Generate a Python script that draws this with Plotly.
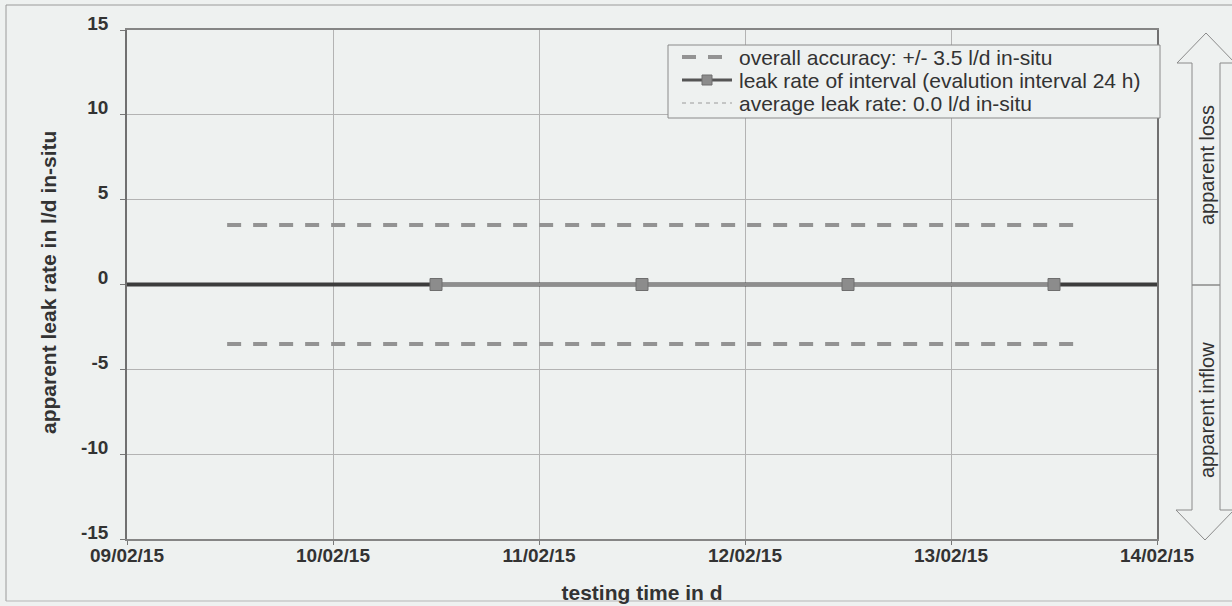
import plotly.graph_objects as go

# ---- data ----
test_start = "2015-02-09 00:00"
test_end = "2015-02-14 00:00"
interval_times = ["2015-02-10 12:00", "2015-02-11 12:00", "2015-02-12 12:00", "2015-02-13 12:00"]
interval_rates = [0.0, 0.0, 0.0, 0.0]
average_rate = 0.0
accuracy = 3.5
accuracy_times = ["2015-02-09 11:40", "2015-02-13 14:20"]
x_ticks = ["2015-02-09", "2015-02-10", "2015-02-11", "2015-02-12", "2015-02-13", "2015-02-14"]
x_tick_labels = ["09/02/15", "10/02/15", "11/02/15", "12/02/15", "13/02/15", "14/02/15"]
y_ticks = [-15, -10, -5, 0, 5, 10, 15]
y_tick_labels = ["-15", "-10", "-5", "0", "5", "10", "15"]
legend_names = ["overall accuracy: +/- 3.5 l/d in-situ",
                "leak rate of interval (evalution interval 24 h)",
                "average leak rate: 0.0 l/d in-situ"]
x_title = "testing time in d"
y_title = "apparent leak rate in l/d in-situ"

BG = "#eef1f0"
TXT = "#333333"
FONT = "Liberation Sans, Arial, sans-serif"
ACC_COLOR = "#939393"
DARK = "#3c3c3c"
MID = "#8e8e8e"
MARK = "#8c8c8c"
MARK_EDGE = "#6e6e6e"
AVG_COLOR = "#9a9a9a"

fig = go.Figure()

# average leak rate (thin dashed, under everything)
fig.add_trace(go.Scatter(
    x=[test_start, test_end], y=[average_rate, average_rate], mode="lines",
    name=legend_names[2], showlegend=False,
    line=dict(color=AVG_COLOR, width=1, dash="4px,4px")))

# overall accuracy +/-
for sign in (1, -1):
    fig.add_trace(go.Scatter(
        x=accuracy_times, y=[sign * accuracy, sign * accuracy], mode="lines",
        name=legend_names[0], showlegend=False,
        line=dict(color=ACC_COLOR, width=4, dash="14px,12px")))

# leak rate line: dark ends, grey between interval points
fig.add_trace(go.Scatter(
    x=[test_start] + interval_times + [test_end],
    y=[interval_rates[0]] + interval_rates + [interval_rates[-1]],
    mode="lines", showlegend=False, name=legend_names[1],
    line=dict(color=DARK, width=4)))
fig.add_trace(go.Scatter(
    x=interval_times, y=interval_rates, mode="lines+markers", showlegend=False,
    name=legend_names[1],
    line=dict(color=MID, width=3),
    marker=dict(symbol="square", size=12, color=MARK, line=dict(color=MARK_EDGE, width=1))))

# ---- layout geometry (pixels -> paper) ----
L, R, T, B = 127, 1157, 30, 539
W, H = R - L, B - T
def px(x):
    return (x - L) / W
def py(y):
    return (B - y) / H

shapes = []
annotations = []
# outer frame
shapes.append(dict(type="path", xref="paper", yref="paper",
                   path=f"M {px(6)},{py(601)} L {px(6)},{py(5)} L {px(1240)},{py(5)}",
                   line=dict(color="#9a9a9a", width=1)))
shapes.append(dict(type="line", xref="paper", yref="paper",
                   x0=px(6), x1=px(1240), y0=py(601), y1=py(601),
                   line=dict(color="#b5b5b5", width=1)))
# double arrow on the right
arrow = (f"M {px(1206)},{py(33)} L {px(1177)},{py(63)} L {px(1192)},{py(63)} "
         f"L {px(1192)},{py(510)} L {px(1176)},{py(510)} L {px(1205)},{py(540)} "
         f"L {px(1234)},{py(510)} L {px(1220)},{py(510)} L {px(1220)},{py(63)} "
         f"L {px(1235)},{py(63)} Z")
shapes.append(dict(type="path", xref="paper", yref="paper", path=arrow,
                   line=dict(color="#8a8a8a", width=1)))
shapes.append(dict(type="line", xref="paper", yref="paper",
                   x0=px(1192), x1=px(1220), y0=py(285), y1=py(285),
                   line=dict(color="#8a8a8a", width=1.5)))
annotations += [
    dict(text="apparent loss", xref="paper", yref="paper", x=px(1207), y=py(165),
         xanchor="center", yanchor="middle",
         textangle=-90, showarrow=False, font=dict(family=FONT, size=20, color=TXT)),
    dict(text="apparent inflow", xref="paper", yref="paper", x=px(1207), y=py(410),
         xanchor="center", yanchor="middle",
         textangle=-90, showarrow=False, font=dict(family=FONT, size=20, color=TXT)),
]

# y axis title
annotations.append(dict(text=y_title, xref="paper", yref="paper", x=px(48), y=py(283),
                        xanchor="center", yanchor="middle", textangle=-90, showarrow=False,
                        font=dict(family=FONT, size=21, color=TXT, weight="bold")))

# ---- legend box (drawn) ----
LG_L, LG_R, LG_T, LG_B = 668, 1160, 45, 118
rows = [57, 80, 103]
shapes.append(dict(type="rect", xref="paper", yref="paper",
                   x0=px(LG_L), x1=px(LG_R), y0=py(LG_B), y1=py(LG_T),
                   line=dict(color="#8a8a8a", width=1), fillcolor=BG, layer="above"))
# symbol 1: two thick dashes
shapes.append(dict(type="line", xref="paper", yref="paper", layer="above",
                   x0=px(682), x1=px(732), y0=py(rows[0]), y1=py(rows[0]),
                   line=dict(color=ACC_COLOR, width=4, dash="14px,12px")))
# symbol 2: dark line with grey square
shapes.append(dict(type="line", xref="paper", yref="paper", layer="above",
                   x0=px(682), x1=px(732), y0=py(rows[1]), y1=py(rows[1]),
                   line=dict(color="#555555", width=3)))
shapes.append(dict(type="rect", xref="paper", yref="paper", layer="above",
                   x0=px(702), x1=px(712), y0=py(rows[1] + 5), y1=py(rows[1] - 5),
                   line=dict(color=MARK_EDGE, width=1), fillcolor=MARK))
# symbol 3: thin short dashes
shapes.append(dict(type="line", xref="paper", yref="paper", layer="above",
                   x0=px(682), x1=px(732), y0=py(rows[2]), y1=py(rows[2]),
                   line=dict(color=AVG_COLOR, width=1, dash="4px,4px")))
for name, ry in zip(legend_names, rows):
    annotations.append(dict(text=name, xref="paper", yref="paper", x=px(737), y=py(ry),
                            xanchor="left", yanchor="middle", showarrow=False,
                            font=dict(family=FONT, size=21, color=TXT)))

fig.update_layout(
    width=1232, height=606,
    margin=dict(l=L, r=1232 - R, t=T, b=606 - B, autoexpand=False),
    paper_bgcolor=BG, plot_bgcolor=BG,
    font=dict(family=FONT, color=TXT),
    shapes=shapes, annotations=annotations,
    showlegend=False,
)

fig.update_xaxes(
    type="date", range=[test_start, test_end],
    tickvals=x_ticks, ticktext=x_tick_labels,
    tickfont=dict(family=FONT, size=19, color=TXT, weight="bold"),
    ticks="outside", ticklen=4, tickcolor="#777777", ticklabelstandoff=-6,
    showgrid=True, gridcolor="#b3b3b3", gridwidth=1,
    showline=True, linecolor="#858585", linewidth=1.5, mirror=True,
    zeroline=False, automargin=False,
    title=dict(text=x_title, standoff=21,
               font=dict(family=FONT, size=21, color=TXT, weight="bold")),
)
fig.update_yaxes(
    range=[-15, 15], tickvals=y_ticks, ticktext=y_tick_labels,
    tickfont=dict(family=FONT, size=19, color=TXT, weight="bold"),
    ticks="outside", ticklen=5, tickcolor="#777777", ticklabelstandoff=8,
    ticklabelshift=-7,
    showgrid=True, gridcolor="#b3b3b3", gridwidth=1,
    showline=True, linecolor="#707070", linewidth=1.5, mirror=True,
    zeroline=False, automargin=False,
)

fig.write_html("out.html")
